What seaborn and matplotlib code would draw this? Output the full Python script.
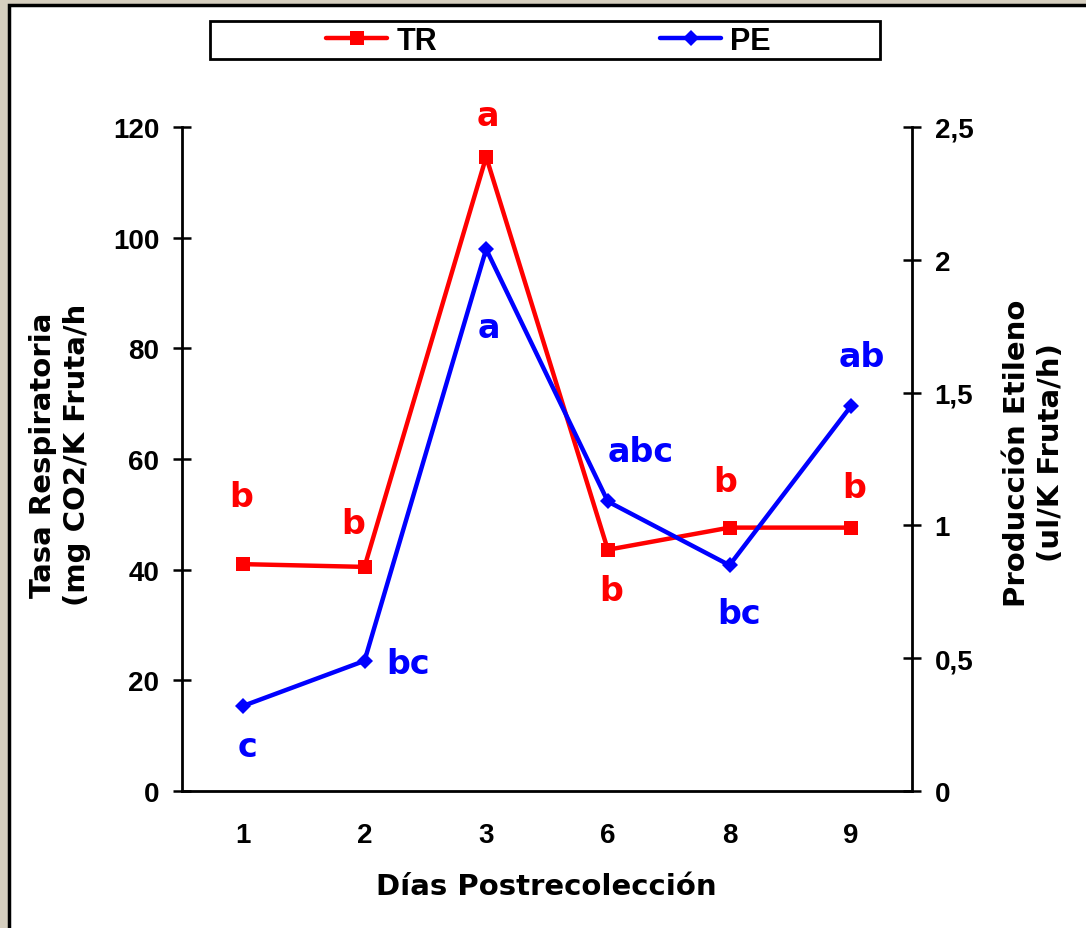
import matplotlib
matplotlib.use("Agg")
import matplotlib.pyplot as plt
from matplotlib.patches import Rectangle
import seaborn as sns
import pandas as pd

# datos
dias = ["1", "2", "3", "6", "8", "9"]
tasa_resp = [41.0, 40.5, 114.6, 43.6, 47.6, 47.6]
prod_etileno = [0.32, 0.49, 2.04, 1.09, 0.85, 1.45]
letras_tr = ["b", "b", "a", "b", "b", "b"]
letras_pe = ["c", "bc", "a", "abc", "bc", "ab"]
yticks_izq = [0, 20, 40, 60, 80, 100, 120]
yticks_der = [0, 0.5, 1, 1.5, 2, 2.5]
ylabels_der = ["0", "0,5", "1", "1,5", "2", "2,5"]

# desplazamiento de las letras respecto al punto (pixeles)
off_tr = [(-2, 68), (-11, 43), (2, 41), (3, -41), (-4, 46), (3, 40)]
off_pe = [(5, -40), (44, -3), (3, -78), (33, 50), (10, -48), (11, 49)]

df = pd.DataFrame({"dia": dias, "TR": tasa_resp, "PE": prod_etileno})

sns.set_style("white", rc={"text.color": "black", "axes.labelcolor": "black",
                           "xtick.color": "black", "ytick.color": "black",
                           "axes.edgecolor": "black"})
plt.rcParams["font.family"] = ["DejaVu Sans"]

fig = plt.figure(figsize=(10.86, 9.29), dpi=100)
fig.patch.set_facecolor("#d6cfbf")
fig.patches.append(Rectangle((9 / 1086, -0.05), 1.1, 1 - 6 / 929 + 0.05,
                             transform=fig.transFigure, facecolor="white",
                             edgecolor="black", linewidth=2.5, zorder=-10))

ax = fig.add_axes([182 / 1086, 1 - 792 / 929, 730 / 1086, 664 / 929])
ax.set_facecolor("none")
ax2 = ax.twinx()
ax2.set_facecolor("none")

sns.lineplot(data=df, x="dia", y="TR", ax=ax, color="red", linewidth=3.2,
             marker="s", markersize=10, markeredgewidth=0, sort=False)
sns.lineplot(data=df, x="dia", y="PE", ax=ax2, color="blue", linewidth=3.2,
             marker="D", markersize=8, markeredgewidth=0, sort=False)

ax.set_xlim(-0.5, 5.5)
ax.set_ylim(0, 120)
ax2.set_ylim(0, 2.5)

tick_font = dict(family="Liberation Sans", weight="bold", size=20)

ax.set_yticks(yticks_izq)
ax.set_yticklabels([str(v) for v in yticks_izq], fontdict=tick_font)
ax2.set_yticks(yticks_der)
ax2.set_yticklabels(ylabels_der, fontdict=tick_font)

ax.set_xticks(range(len(dias)))
ax.set_xticklabels(dias, fontdict=tick_font)
ax.set_xticks([i - 0.5 for i in range(len(dias) + 1)], minor=True)
ax.tick_params(axis="x", which="major", length=0, pad=22)
ax.tick_params(axis="x", which="minor", direction="inout", length=12.5, width=1.8)
ax.tick_params(axis="y", direction="inout", length=12.5, width=1.8, pad=10)
ax2.tick_params(axis="y", direction="inout", length=12.5, width=1.8, pad=10)

for a in (ax, ax2):
    a.spines["top"].set_visible(False)
    for s in ("left", "right", "bottom"):
        a.spines[s].set_linewidth(2)
        a.spines[s].set_color("black")
ax.spines["right"].set_visible(False)
ax2.spines["left"].set_visible(False)
ax2.spines["bottom"].set_visible(False)

lab_font = dict(family="DejaVu Sans", weight="bold", size=21)
ax.set_xlabel("Días Postrecolección", fontdict=lab_font, va="center")
ax.xaxis.set_label_coords(546 / 1086, 1 - 887 / 929, transform=fig.transFigure)
ax.set_ylabel("Tasa Respiratoria\n(mg CO2/K Fruta/h", fontdict=lab_font,
              linespacing=1.25, ha="center", va="center", rotation_mode="default")
ax.yaxis.set_label_coords(60 / 1086, 1 - 455 / 929, transform=fig.transFigure)
ax2.set_ylabel("Producción Etileno\n(ul/K Fruta/h)", fontdict=lab_font,
               linespacing=1.25, ha="center", va="center", rotation=90,
               rotation_mode="default")
ax2.yaxis.set_label_coords(1034 / 1086, 1 - 453 / 929, transform=fig.transFigure)

for i in range(len(dias)):
    ax.annotate(letras_tr[i], (i, tasa_resp[i]), xytext=off_tr[i],
                textcoords="offset pixels", ha="center", va="center",
                color="red", fontsize=24, fontweight="bold")
    ax2.annotate(letras_pe[i], (i, prod_etileno[i]), xytext=off_pe[i],
                 textcoords="offset pixels", ha="center", va="center",
                 color="blue", fontsize=24, fontweight="bold")

# leyenda
fig.patches.append(Rectangle((210 / 1086, 1 - 60 / 929), 670 / 1086, 38 / 929,
                             transform=fig.transFigure, facecolor="white",
                             edgecolor="black", linewidth=2, zorder=-5))
handles = [ax.lines[0], ax2.lines[0]]
fig.legend(handles, ["TR", "PE"], loc="center left",
           bbox_to_anchor=(326 / 1086, 1 - 42 / 929), ncol=2, frameon=False,
           prop=dict(family="Liberation Sans", weight="bold", size=22),
           labelcolor="black",
           handlelength=2.0, handletextpad=0.3, columnspacing=7.3,
           borderpad=0, borderaxespad=0)

fig.savefig("out.png", dpi=100, facecolor=fig.get_facecolor())
